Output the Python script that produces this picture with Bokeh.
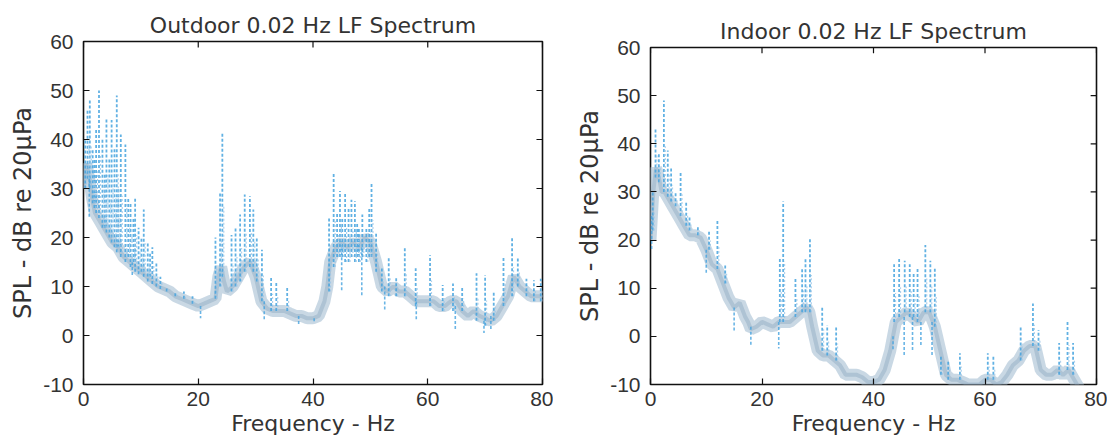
from bokeh.plotting import figure
from bokeh.layouts import row
from bokeh.models import FixedTicker, Range1d
from bokeh.embed import file_html
from bokeh.resources import INLINE

# ---------------- Outdoor data ----------------
out_f = [0, 0.5, 1, 1.5, 2, 3, 4, 5, 6, 7,
         8, 9, 10, 11, 12, 13, 14, 15, 16, 17,
         18, 19, 20, 21, 22, 23, 23.5, 24, 24.5, 25,
         26, 27, 28, 29, 30, 31, 32, 33, 34, 35,
         36, 37, 38, 39, 40, 41, 42, 42.5, 43, 44,
         45, 46, 47, 48, 49, 50, 51, 52, 53, 54,
         55, 56, 57, 58, 59, 60, 61, 62, 63, 64,
         65, 66, 67, 68, 69, 70, 71, 72, 73, 74,
         75, 76, 77, 78, 79, 80]
out_v = [30, 35, 32, 28, 25, 23, 21, 19, 18, 16,
         15, 14, 13, 12, 11, 10, 9.5, 9, 8, 7.5,
         7, 6.5, 6, 6.5, 7, 7.5, 12, 14, 11, 9,
         10, 12, 14, 15, 12, 7, 5.5, 5, 5, 5,
         4.5, 4, 4, 3.5, 3.5, 4, 7, 10, 15, 18,
         19, 18, 19, 18, 20, 19, 15, 10, 9, 10,
         9, 9, 8, 7, 7, 7, 7, 6, 6, 7,
         7, 5, 4, 5, 4, 3.5, 3, 4, 6, 8,
         12, 10, 9, 8, 8, 8]

os_f = [0.3, 0.7, 1.1, 1.6, 2.2, 2.7, 3.3, 4.0, 4.5, 4.9,
        5.4, 5.8, 6.5, 7.3, 8.2, 9.0, 9.6, 10.5, 11.2, 12.0,
        12.7, 13.4, 14.5, 16.0, 17.5, 19.0, 23.0, 23.8, 24.2, 25.8,
        26.5, 27.3, 28.1, 29.0, 29.6, 30.2, 31.1, 32.7, 33.6, 35.5,
        42.8, 43.6, 44.2, 44.7, 45.6, 46.2, 46.7, 47.3, 48.0, 48.6,
        49.3, 50.2, 51.0, 52.0, 53.2, 54.5, 56.0, 57.9, 60.4, 62.6,
        64.4, 66.0, 68.5, 70.0, 71.5, 73.2, 74.7, 75.7, 77.2, 78.5,
        79.7, 1.9, 3.7, 6.1, 7.8, 8.7, 10.1, 11.6, 45.1, 47.7, 49.8]
os_hi = [40, 46, 48, 38, 42, 50, 40, 44.5, 36, 44,
         38, 49, 41, 39, 27, 28, 22, 25.7, 19, 18,
         15, 12, 10, 9, 9, 8, 20, 29, 41.4, 20.5,
         22, 24.7, 28.8, 28.4, 25.7, 20, 17.5, 12, 11, 10,
         24, 33, 25, 29.5, 29, 26, 27.7, 27.4, 22, 24.7,
         22, 31, 21, 14, 16, 12, 17.8, 13.7, 16.4, 10.3,
         10.6, 10, 12.7, 12.3, 9, 16, 19.9, 16, 11.6, 11.3,
         11.6, 36, 33, 30, 28, 24, 20, 17, 24, 23, 26]
os_lo = [30, 32, 30, 27, 25, 24, 22, 21, 20, 19,
         18, 17, 16, 15, 14, 13, 12.5, 12, 11, 10.5,
         10, 9.5, 9, 8, 7.5, 6.5, 7.5, 10, 12, 9,
         10, 11, 13, 14, 13, 11, 7, 5, 5, 5,
         9, 14, 16, 16, 15, 15, 16, 15, 15, 16,
         15, 16, 13, 9, 8, 8, 8, 6, 6, 5,
         5, 5, 3, 2, 3, 6, 8, 10, 8, 7,
         7, 26, 22, 18, 16, 15, 13, 12, 16, 16, 16]
od_f = [1.0, 8.5, 20.4, 31.5, 37.5, 40.2, 45.0, 48.5, 52.5, 58.0, 64.8, 69.8, 71.0]
od_lo = [24, 12, 3.5, 3, 2, 2.5, 9, 8, 5, 3, 1, 0.5, 1]
od_hi = [32, 15, 6, 7, 4, 3.5, 18, 18, 10, 7, 6, 3, 4]

# ---------------- Indoor data ----------------
in_f = [0, 0.5, 1, 1.5, 2, 2.5, 3, 4, 5, 6,
        7, 8, 9, 10, 11, 12, 13, 14, 15, 16,
        17, 17.5, 18, 19, 20, 21, 22, 23, 24, 25,
        26, 27, 28, 28.5, 29, 30, 31, 32, 33, 34,
        35, 36, 37, 38, 39, 40, 41, 42, 43, 44,
        45, 46, 47, 48, 49, 50, 51, 52, 53, 54,
        55, 56, 57, 58, 59, 60, 61, 62, 63, 64,
        65, 66, 67, 68, 69, 70, 71, 72, 73, 74,
        75, 76, 76.5, 77]
in_v = [20, 30, 35, 33, 30, 30, 29, 27, 25, 23,
        21, 21, 20.5, 18, 15, 14, 11, 8, 6, 7,
        4, 3, 1.5, 2, 3, 2.5, 2, 3, 3, 3,
        4, 5, 6, 5, 2, -3, -4, -4, -5, -6,
        -8, -8, -8, -8.5, -9.5, -9.5, -9, -7, -3, 3,
        4, 5, 4, 3, 5, 5, 2, -3, -8, -9,
        -9, -9.5, -10, -10, -10, -9, -9, -10, -9.5, -8,
        -6, -5, -3, -2, -2, -7, -8, -8, -7, -8,
        -7, -9, -10, -11]

is_f = [0.4, 0.9, 1.5, 2.4, 3.1, 3.7, 4.5, 5.4, 6.4, 7.0,
        8.5, 10.5, 12.0, 13.4, 23.2, 23.8, 26.0, 27.2, 27.8, 28.6,
        30.8, 31.7, 33.3, 43.7, 44.6, 45.6, 46.5, 47.2, 47.9, 49.3,
        50.2, 51.0, 52.1, 53.4, 55.5, 60.5, 61.5, 66.4, 68.6, 69.6,
        73.3, 74.8, 75.8]
is_hi = [30, 43, 38, 49, 38.6, 35, 30, 34, 28, 25,
         23, 21.8, 24, 15, 16.4, 28, 12.3, 14, 16.4, 20.5,
         6, 2.3, 2, 15, 16.4, 15.7, 15, 13, 14.3, 19,
         15.7, 14.3, -4, -5, -3.5, -3.5, -4, 2, 6.8, 1.3,
         -1.4, 3.4, -1.4]
is_lo = [22, 33, 32, 30, 29, 28, 27, 25, 23, 22,
         21, 18, 14, 11, 3, 3, 4, 5, 5, 5,
         -3, -4, -5, 3, 4, 5, 4, 4, 3, 5,
         5, 2, -8, -9, -9, -9, -9, -5, -2, -3,
         -8, -7, -8]
id_f = [0.2, 10.0, 15.0, 18.0, 23.0, 43.5, 45.5, 47.0, 48.5, 50.5]
id_lo = [18, 13, 1, -2, -2.5, -3, -4, -3, -2, -4]
id_hi = [25, 18, 6, 2, 3, 0, 4, 4, 3, 3]

x_ticks = [0, 20, 40, 60, 80]
y_ticks = [-10, 0, 10, 20, 30, 40, 50, 60]
y_tick_labels = {-10: "-10", 0: "0", 10: "10", 20: "20", 30: "30", 40: "40", 50: "50", 60: "60"}

FONT = "DejaVu Sans"
TICK_FONT = "Liberation Sans"
TXT = "#333333"
BAND = "#b2c7d9"
SPIKE = "#45a3de"


def make_plot(title, f, v, sf, shi, slo, df, dlo, dhi, width, height):
    p = figure(width=width, height=height, output_backend="svg", toolbar_location=None,
               x_range=Range1d(0, 80), y_range=Range1d(-10, 60),
               min_border_left=83, min_border_right=11,
               min_border_top=41, min_border_bottom=60)
    p.title.text = title
    p.title.align = "center"
    p.title.text_font = FONT
    p.title.text_font_size = "22px"
    p.title.text_font_style = "normal"
    p.title.text_color = TXT
    p.title.standoff = 8
    p.xgrid.visible = False
    p.ygrid.visible = False
    p.outline_line_color = "#111111"
    p.outline_line_width = 1.6
    p.outline_line_alpha = 1.0

    # band (dense spectrum body)
    p.line(f, v, line_width=12, color=BAND, alpha=0.7)
    p.line(f, v, line_width=4, color="#94aec4", alpha=0.5)
    # downward dips
    p.segment(x0=df, y0=dhi, x1=df, y1=dlo, line_width=1.6, color=SPIKE, alpha=0.8,
              line_dash="3 2")
    # upward spikes
    p.segment(x0=sf, y0=slo, x1=sf, y1=shi, line_width=1.8, color=SPIKE, alpha=0.85,
              line_dash="3 2")
    p.segment(x0=[x + 0.25 for x in sf], y0=slo, x1=[x + 0.25 for x in sf],
              y1=[(a + b) / 2 for a, b in zip(slo, shi)], line_width=1.2,
              color="#9cc6e6", alpha=0.8, line_dash="2 2")

    # inward ticks on top and right edges (MATLAB-style box)
    p.segment(x0=x_ticks, y0=[60] * len(x_ticks), x1=x_ticks, y1=[58.8] * len(x_ticks),
              color="#111111", line_width=1.2)
    p.segment(x0=[80] * len(y_ticks), y0=y_ticks, x1=[78.95] * len(y_ticks), y1=y_ticks,
              color="#111111", line_width=1.2)

    for ax in (p.xaxis[0], p.yaxis[0]):
        ax.axis_line_color = None
        ax.major_tick_in = 6
        ax.major_tick_out = 0
        ax.minor_tick_line_color = None
        ax.major_tick_line_color = "#111111"
        ax.major_tick_line_width = 1.2
        ax.major_label_text_font = TICK_FONT
        ax.major_label_text_font_size = "21px"
        ax.major_label_text_color = TXT
        ax.axis_label_text_font = FONT
        ax.axis_label_text_font_size = "22px"
        ax.axis_label_text_font_style = "normal"
        ax.axis_label_text_color = TXT
    p.yaxis[0].axis_label_text_font_size = "24px"
    p.xaxis[0].ticker = FixedTicker(ticks=x_ticks)
    p.yaxis[0].ticker = FixedTicker(ticks=y_ticks)
    p.yaxis[0].major_label_overrides = y_tick_labels
    p.xaxis[0].axis_label = "Frequency - Hz"
    p.yaxis[0].axis_label = "SPL - dB re 20\u03bcPa"
    p.xaxis[0].major_label_standoff = 7
    p.yaxis[0].major_label_standoff = 10
    p.xaxis[0].axis_label_standoff = 2
    p.yaxis[0].axis_label_standoff = 3
    return p


p1 = make_plot("Outdoor 0.02 Hz LF Spectrum", out_f, out_v, os_f, os_hi, os_lo,
               od_f, od_lo, od_hi, 553, 444)
p2 = make_plot("Indoor 0.02 Hz LF Spectrum", in_f, in_v, is_f, is_hi, is_lo,
               id_f, id_lo, id_hi, 540, 438)
p2.margin = (6, 0, 0, 14)

layout = row(p1, p2, spacing=0)
open("out.html", "w").write(file_html(layout, INLINE))
